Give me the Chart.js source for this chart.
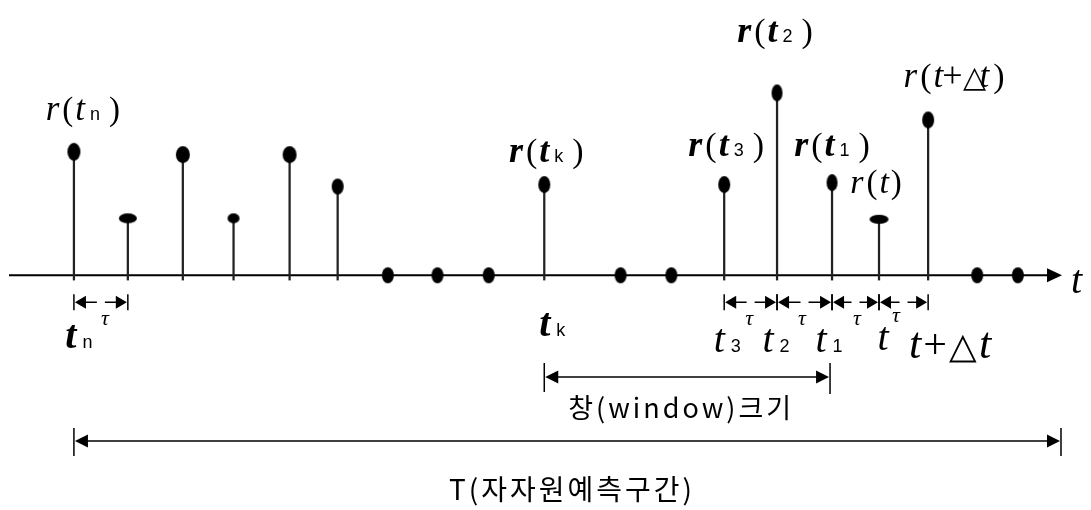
<!DOCTYPE html>
<html><head><meta charset="utf-8">
<script src="https://cdn.jsdelivr.net/npm/chart.js@4/dist/chart.umd.min.js"></script>
<style>html,body{margin:0;padding:0;background:#fff}#wrap{width:1091px;height:510px;position:relative}</style>
</head><body><div id="wrap"><canvas id="c"></canvas></div>
<script>
// ---- data ----
const sampleTimes  = [0, 1.01, 2.04, 2.99, 4.04, 4.94, 5.88, 6.81, 7.77, 8.81, 10.24, 11.19, 12.18, 13.17, 14.2, 15.08, 16, 16.92, 17.68];
const sampleValues = [1.28, 0.59, 1.25, 0.59, 1.25, 0.92, 0, 0, 0, 0.94, 0, 0, 0.94, 1.89, 0.96, 0.58, 1.61, 0, 0];
const tauPairs = [[0,1],[12,13],[13,14],[14,15],[15,16]];
const windowRange = [9, 14];
const axisLabel = 't';
const windowLabel = '창(window)크기';
const periodLabel = 'T(자자원예측구간)';

// ---- styles (not data) ----
const dotRadii = [[6.5,9],[9,5],[7,8.5],[6,5],[7,8.5],[6,8],[6,8],[6,8],[6,8],[6,8.5],[6,8],[6,8],[6,8.5],[5.5,8.5],[5.5,8.5],[9.5,4.5],[6,8.5],[6,8],[6,8]];
function ellipse(rx, ry){
  const c = document.createElement('canvas');
  c.width = Math.ceil(rx*2+2); c.height = Math.ceil(ry*2+2);
  const g = c.getContext('2d');
  g.fillStyle = '#000';
  g.beginPath(); g.ellipse(c.width/2, c.height/2, rx, ry, 0, 0, Math.PI*2); g.fill();
  return c;
}
const dotStyles = dotRadii.map(r => ellipse(r[0], r[1]));

const SERIF = '"Liberation Serif", serif';
const SANS = '"Liberation Sans", sans-serif';
const I = s => 'italic ' + s + 'px ' + SERIF;
const BI = s => 'italic bold ' + s + 'px ' + SERIF;
const R = s => s + 'px ' + SERIF;
const SUB = s => s + 'px ' + SANS;

function drawParts(ctx, parts, x, y){
  // parts: [text, font, dy, gapAfter]; x is the centre
  let total = 0;
  const w = parts.map(p => { ctx.font = p[1]; const m = ctx.measureText(p[0]).width; total += m + (p[3]||0); return m; });
  total -= (parts[parts.length-1][3]||0);
  let cx = x - total/2;
  ctx.textBaseline = 'alphabetic'; ctx.textAlign = 'left';
  parts.forEach((p,i) => { ctx.font = p[1]; ctx.fillText(p[0], cx, y + (p[2]||0)); cx += w[i] + (p[3]||0); });
}
function rLabel(sub, bold, size){
  const F = bold ? BI : I;
  const parts = [['r', F(size+2), 0, 3], ['(', R(size), 0, 2], ['t', F(size+2), 0, 5]];
  if (sub) parts.push([sub, SUB(18), 0, 9]);
  parts.push([')', R(size), 0, 0]);
  return parts;
}

const annotations = {
  id: 'annot',
  beforeDatasetsDraw(chart){
    const {ctx, scales:{x, y}, chartArea} = chart;
    const y0 = y.getPixelForValue(0);
    ctx.save();
    ctx.strokeStyle = '#000'; ctx.lineWidth = 2;
    ctx.beginPath(); ctx.moveTo(chartArea.left, y0); ctx.lineTo(chartArea.right - 12, y0); ctx.stroke();
    ctx.fillStyle = '#000';
    ctx.beginPath(); ctx.moveTo(chartArea.right + 2, y0); ctx.lineTo(chartArea.right - 13, y0 - 7); ctx.lineTo(chartArea.right - 13, y0 + 7); ctx.closePath(); ctx.fill();
    ctx.restore();
  },
  afterDatasetsDraw(chart){
    const {ctx, scales:{x, y}, chartArea} = chart;
    const px = i => x.getPixelForValue(sampleTimes[i]);
    const y0 = y.getPixelForValue(0);
    ctx.save();
    ctx.fillStyle = '#000'; ctx.strokeStyle = '#000';

    // axis label
    ctx.font = I(40); ctx.textAlign = 'left'; ctx.textBaseline = 'alphabetic';
    ctx.fillText(axisLabel, chartArea.right + 11, y0 + 18);

    // value labels
    drawParts(ctx, rLabel('n', false, 33), px(0) + 9, 120);
    drawParts(ctx, rLabel('k', true, 34), px(9) + 2, 162);
    drawParts(ctx, rLabel('3', true, 34), px(12) + 2, 156);
    drawParts(ctx, rLabel('1', true, 34), px(14), 156);
    drawParts(ctx, rLabel('2', true, 34), px(13) - 2, 42);
    drawParts(ctx, [['r', I(35), 0, 3], ['(', R(34), 0, 2], ['t', I(35), 0, -1], ['+', R(36), 0, 0], ['△', R(30), 0, -6], ['t', I(35), 0, 4], [')', R(34), 0, 0]], px(16) + 26, 87);
    drawParts(ctx, [['r', I(34), 0, 3], ['(', R(33), 0, 2], ['t', I(34), 0, 2], [')', R(33), 0, 0]], px(15) - 3, 193);

    // tau arrows
    const ay = y0 + 27;
    function arrowHead(tipX, dir, yy, len, half){
      ctx.beginPath(); ctx.moveTo(tipX, yy); ctx.lineTo(tipX + dir*len, yy - half); ctx.lineTo(tipX + dir*len, yy + half); ctx.closePath(); ctx.fill();
    }
    ctx.lineWidth = 1.5;
    tauPairs.forEach(([a,b]) => {
      const xa = px(a), xb = px(b), mid = (xa+xb)/2;
      ctx.beginPath(); ctx.moveTo(xa, ay-8); ctx.lineTo(xa, ay+8); ctx.moveTo(xb, ay-8); ctx.lineTo(xb, ay+8); ctx.stroke();
      arrowHead(xa + 1, 1, ay, 11, 6.5);
      arrowHead(xb - 1, -1, ay, 11, 6.5);
      ctx.beginPath(); ctx.moveTo(xa + 11, ay); ctx.lineTo(mid - 4, ay); ctx.moveTo(mid + 4, ay); ctx.lineTo(xb - 11, ay); ctx.stroke();
    });

    // bottom time labels
    drawParts(ctx, [['t', BI(40), 0, 6], ['n', SUB(18), 0, 0]], px(0) + 5, 348);
    drawParts(ctx, [['τ', I(22), 0, 0]], px(0) + 31, 325);
    drawParts(ctx, [['t', BI(40), 0, 6], ['k', SUB(18), 0, 0]], px(9) + 8, 336);
    drawParts(ctx, [['t', I(40), 0, 6], ['3', SUB(18), 0, 0]], px(12) + 3, 352);
    drawParts(ctx, [['τ', I(22), 0, 0]], px(12) + 25, 325);
    drawParts(ctx, [['t', I(40), 0, 6], ['2', SUB(18), 0, 0]], px(13) - 1, 352);
    drawParts(ctx, [['τ', I(22), 0, 0]], px(13) + 25, 325);
    drawParts(ctx, [['t', I(40), 0, 6], ['1', SUB(18), 0, 0]], px(14) - 3, 352);
    drawParts(ctx, [['τ', I(22), 0, 0]], px(14) + 25, 325);
    drawParts(ctx, [['t', I(40), 0, 0]], px(15) + 4, 350);
    drawParts(ctx, [['τ', I(22), 0, 0]], px(15) + 17, 322);
    drawParts(ctx, [['t', I(44), 0, 2], ['+', R(42), 0, 2], ['△', R(36), 0, 2], ['t', I(44), 0, 0]], px(16) + 22, 358);

    // window arrow
    const wy = 377, wl = px(windowRange[0]), wr = px(windowRange[1]) - 2;
    ctx.lineWidth = 1.5;
    ctx.beginPath(); ctx.moveTo(wl, wy-14); ctx.lineTo(wl, wy+15); ctx.moveTo(wr, wy-14); ctx.lineTo(wr, wy+17); ctx.stroke();
    ctx.beginPath(); ctx.moveTo(wl+12, wy); ctx.lineTo(wr-12, wy); ctx.stroke();
    arrowHead(wl + 1, 1, wy, 13, 6.5);
    arrowHead(wr - 1, -1, wy, 13, 6.5);
    ctx.font = '27px "Noto Sans CJK KR"'; ctx.textAlign = 'center'; ctx.textBaseline = 'alphabetic';
    ctx.letterSpacing = '3px';
    ctx.fillText(windowLabel, (wl + wr)/2 - 6, 418);

    // period arrow
    const ty = 441, tl = px(0), tr = chartArea.right + 1;
    ctx.beginPath(); ctx.moveTo(tl, ty-13); ctx.lineTo(tl, ty+15); ctx.moveTo(tr, ty-13); ctx.lineTo(tr, ty+15); ctx.stroke();
    ctx.beginPath(); ctx.moveTo(tl+12, ty); ctx.lineTo(tr-12, ty); ctx.stroke();
    arrowHead(tl + 1, 1, ty, 13, 6.5);
    arrowHead(tr - 1, -1, ty, 13, 6.5);
    ctx.font = '28px "Noto Sans CJK KR"'; ctx.letterSpacing = '3px';
    ctx.fillText(periodLabel, 572, 500);
    ctx.restore();
  }
};

const stemFloor = -0.05;
new Chart(document.getElementById('c'), {
  type: 'scatter',
  data: {
    datasets: [
      { type: 'bar', order: 2, data: sampleTimes.map((t,i) => ({x: t, y: [stemFloor, sampleValues[i]]})),
        backgroundColor: '#222', barThickness: 1.6, borderWidth: 0 },
      { type: 'scatter', order: 1, data: sampleTimes.map((t,i) => ({x: t, y: sampleValues[i]})),
        pointStyle: dotStyles, pointRadius: 8, pointHoverRadius: 8 }
    ]
  },
  options: {
    responsive: true, maintainAspectRatio: false, animation: false,
    layout: { padding: { left: 8, right: 31, top: 0, bottom: 0 } },
    plugins: { legend: { display: false }, tooltip: { enabled: false } },
    scales: {
      x: { type: 'linear', display: false, min: -1.216, max: 18.47, offset: false },
      y: { type: 'linear', display: false, min: -2.34, max: 2.76 }
    }
  },
  plugins: [annotations]
});
</script></body></html>
